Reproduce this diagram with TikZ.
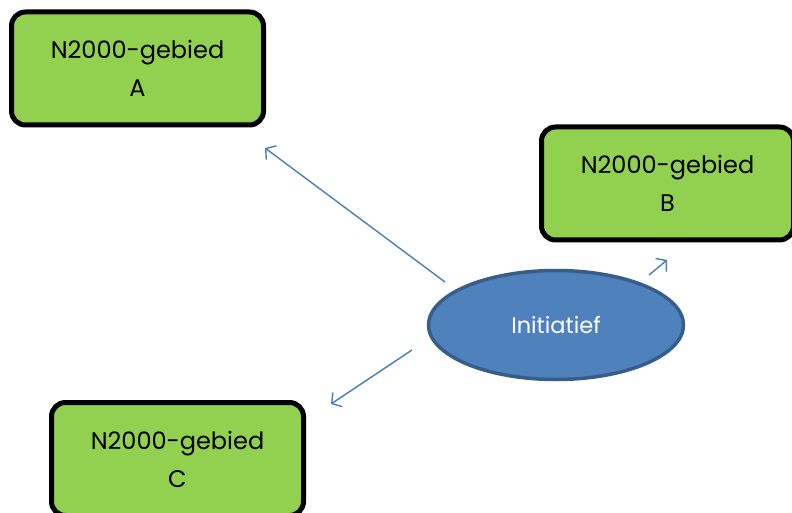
\documentclass[tikz,border=0pt]{standalone}
\usepackage{fontspec}
\setmainfont{Poppins}
\usetikzlibrary{shapes.geometric,arrows.meta}
\definecolor{boxgreen}{HTML}{92D050}
\definecolor{ellblue}{HTML}{4F81BD}
\definecolor{ellborder}{HTML}{385D8A}
\definecolor{arrowblue}{HTML}{4A7EBB}
\tikzset{
  areabox/.style={draw=black, line width=5pt, fill=boxgreen, rounded corners=14pt,
    minimum width=252pt, minimum height=113pt, align=center, inner sep=0pt,
    font=\fontsize{24}{38}\selectfont},
  initbox/.style={ellipse, draw=ellborder, line width=3.5pt, fill=ellblue,
    minimum width=255pt, minimum height=109pt, inner sep=0pt, text=white,
    font=\fontsize{22.5}{26}\selectfont},
  link/.style={draw=arrowblue, line width=1.4pt,
    -{Straight Barb[length=7pt,width=17pt,line width=1.4pt]}}
}
\begin{document}
\begin{tikzpicture}[x=1pt,y=1pt]
\useasboundingbox (0,0) rectangle (792,512);
\clip (0,0) rectangle (792,512);
\node[areabox] (A) at (137.5,443.5) {N2000-gebied\\A};
\node[areabox] (B) at (667.5,328.5) {N2000-gebied\\B};
\node[areabox] (C) at (177.5,53) {N2000-gebied\\C};
\node[initbox] (I) at (556,187) {Initiatief};
\coordinate (a0) at (445,230);
\coordinate (a1) at (265,364);
\coordinate (b0) at (649,237);
\coordinate (b1) at (667,252);
\coordinate (c0) at (412,162);
\coordinate (c1) at (331,108);
\draw[link] (a0) -- (a1);
\draw[link] (b0) -- (b1);
\draw[link] (c0) -- (c1);
\end{tikzpicture}
\end{document}
